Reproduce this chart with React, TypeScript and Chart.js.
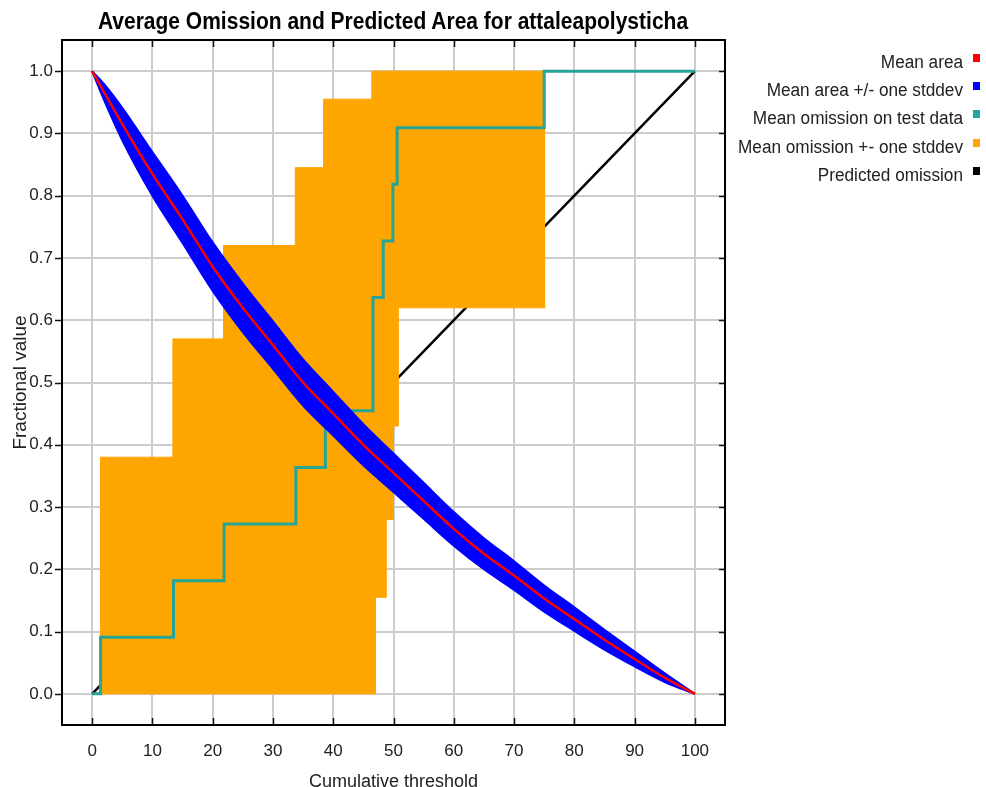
import React, { useEffect, useRef } from 'react';
import { Chart, registerables } from 'chart.js';

Chart.register(...registerables);

const FONT = "'Liberation Sans', Arial, sans-serif";

const TITLE = 'Average Omission and Predicted Area for attaleapolysticha';
const X_TITLE = 'Cumulative threshold';
const Y_TITLE = 'Fractional value';

const X_TICKS = [0, 10, 20, 30, 40, 50, 60, 70, 80, 90, 100];
const Y_TICKS = [0, 0.1, 0.2, 0.3, 0.4, 0.5, 0.6, 0.7, 0.8, 0.9, 1.0];
const Y_TICK_LABELS = ['0.0', '0.1', '0.2', '0.3', '0.4', '0.5', '0.6', '0.7', '0.8', '0.9', '1.0'];

// Mean predicted area (+/- one stddev)
const AREA_X = [0, 2, 5, 10, 15, 20, 25, 30, 35, 40, 45, 50, 55, 60, 65, 70, 75, 80, 85, 90, 95, 100];
const AREA_MEAN = [1.0, 0.966, 0.915, 0.835, 0.762, 0.686, 0.62, 0.56, 0.5, 0.45, 0.4, 0.355, 0.31, 0.265, 0.225, 0.19, 0.153, 0.12, 0.087, 0.056, 0.026, 0.0];
const AREA_STD = [0, 0.013, 0.026, 0.035, 0.038, 0.039, 0.039, 0.038, 0.037, 0.035, 0.033, 0.031, 0.029, 0.027, 0.025, 0.023, 0.021, 0.019, 0.016, 0.012, 0.007, 0];

// Mean omission on test data (step line)
const TEST_X = [0, 1.4, 13.5, 21.9, 33.8, 38.7, 46.6, 48.3, 49.9, 50.6, 75.0, 100];
const TEST_Y = [0, 0.0909, 0.1818, 0.2727, 0.3636, 0.4545, 0.6364, 0.7273, 0.8182, 0.9091, 1.0, 1.0];

// Mean omission +- one stddev (band)
const OMIT_X = [1.3, 13.4, 21.8, 33.7, 38.4, 46.4, 47.0, 48.8, 50.0, 50.8, 75.2];
const OMIT_UPPER = [0.38, 0.57, 0.72, 0.845, 0.955, 1, 1, 1, 1, 1, 1];
const OMIT_LOWER = [0, 0, 0, 0, 0, 0, 0.155, 0.28, 0.43, 0.62, 0.62];

// Predicted omission
const PRED_X = [0, 100];
const PRED_Y = [0, 1];

const RED = '#ff0000';
const BLUE = '#0000ff';
const TEAL = '#26a596';
const ORANGE = '#ffa500';
const BLACK = '#000000';

const LEGEND = [
  { label: 'Mean area', color: RED },
  { label: 'Mean area +/- one stddev', color: BLUE },
  { label: 'Mean omission on test data', color: '#1fa9a0' },
  { label: 'Mean omission +- one stddev', color: ORANGE },
  { label: 'Predicted omission', color: BLACK },
];

const pts = (xs: number[], ys: number[]) => xs.map((x, i) => ({ x, y: ys[i] }));

const frameTicks = {
  id: 'frameTicks',
  afterDraw(chart: any) {
    const { ctx, chartArea } = chart;
    const { left, right, top, bottom } = chartArea;
    const xs = chart.scales.x;
    const ys = chart.scales.y;
    ctx.save();
    ctx.strokeStyle = '#111';
    ctx.lineWidth = 1.5;
    ctx.beginPath();
    X_TICKS.forEach((v) => {
      const px = Math.round(xs.getPixelForValue(v)) + 0.5;
      ctx.moveTo(px, top);
      ctx.lineTo(px, top + 7);
      ctx.moveTo(px, bottom);
      ctx.lineTo(px, bottom - 7);
    });
    Y_TICKS.forEach((v) => {
      const py = Math.round(ys.getPixelForValue(v)) + 0.5;
      ctx.moveTo(left - 7, py);
      ctx.lineTo(left, py);
      ctx.moveTo(right - 6, py);
      ctx.lineTo(right, py);
    });
    ctx.stroke();
    ctx.strokeStyle = '#000';
    ctx.lineWidth = 2;
    ctx.strokeRect(left, top, right - left, bottom - top);
    ctx.restore();
  },
};

export default function App() {
  const ref = useRef<HTMLCanvasElement | null>(null);

  useEffect(() => {
    if (!ref.current) return;
    const areaUpper = AREA_MEAN.map((m, i) => m + AREA_STD[i]);
    const areaLower = AREA_MEAN.map((m, i) => m - AREA_STD[i]);
    const tickFont = { family: FONT, size: 17 };
    const titleFont = { family: FONT, size: 18 };
    const chart = new Chart(ref.current, {
      type: 'scatter',
      data: {
        datasets: [
          {
            label: 'Mean area',
            data: pts(AREA_X, AREA_MEAN),
            showLine: true,
            borderColor: RED,
            borderWidth: 2.5,
            pointRadius: 0,
            cubicInterpolationMode: 'monotone',
            fill: false,
          },
          {
            label: 'Mean area +/- one stddev',
            data: pts(AREA_X, areaUpper),
            showLine: true,
            borderColor: BLUE,
            backgroundColor: BLUE,
            borderWidth: 2,
            pointRadius: 0,
            cubicInterpolationMode: 'monotone',
            fill: 2,
          },
          {
            label: 'Mean area - one stddev',
            data: pts(AREA_X, areaLower),
            showLine: true,
            borderColor: BLUE,
            borderWidth: 2,
            pointRadius: 0,
            cubicInterpolationMode: 'monotone',
            fill: false,
          },
          {
            label: 'Mean omission on test data',
            data: pts(TEST_X, TEST_Y),
            showLine: true,
            stepped: 'before',
            borderColor: TEAL,
            borderWidth: 3,
            pointRadius: 0,
            fill: false,
          },
          {
            label: 'Mean omission + one stddev',
            data: pts(OMIT_X, OMIT_UPPER),
            showLine: true,
            stepped: 'before',
            borderColor: ORANGE,
            backgroundColor: ORANGE,
            borderWidth: 1,
            pointRadius: 0,
            fill: 5,
          },
          {
            label: 'Mean omission - one stddev',
            data: pts(OMIT_X, OMIT_LOWER),
            showLine: true,
            stepped: 'before',
            borderColor: ORANGE,
            borderWidth: 1,
            pointRadius: 0,
            fill: false,
          },
          {
            label: 'Predicted omission',
            data: pts(PRED_X, PRED_Y),
            showLine: true,
            borderColor: BLACK,
            borderWidth: 2.5,
            pointRadius: 0,
            fill: false,
          },
        ],
      },
      options: {
        animation: false,
        responsive: false,
        devicePixelRatio: 1,
        layout: { padding: { top: 40, right: 261, left: 0, bottom: 0 } },
        plugins: {
          legend: { display: false },
          title: { display: false },
          tooltip: { enabled: false },
        },
        scales: {
          x: {
            type: 'linear',
            min: -5,
            max: 105,
            afterBuildTicks: (s: any) => {
              s.ticks = X_TICKS.map((v) => ({ value: v }));
            },
            afterFit: (s: any) => {
              s.height = 62;
            },
            grid: { color: '#cccccc', lineWidth: 2, drawTicks: false },
            border: { display: false },
            ticks: {
              padding: 16,
              color: '#222',
              font: tickFont,
              maxRotation: 0,
              autoSkip: false,
              callback: (v: any) => String(v),
            },
            title: {
              display: true,
              text: X_TITLE,
              color: '#222',
              font: titleFont,
              padding: { top: 0, bottom: -6 },
            },
          },
          y: {
            type: 'linear',
            min: -0.05,
            max: 1.05,
            afterBuildTicks: (s: any) => {
              s.ticks = Y_TICKS.map((v) => ({ value: v }));
            },
            afterFit: (s: any) => {
              s.width = 62;
            },
            grid: { color: '#cccccc', lineWidth: 2, drawTicks: false },
            border: { display: false },
            ticks: {
              padding: 9,
              color: '#222',
              font: tickFont,
              autoSkip: false,
              callback: (_v: any, i: number) => Y_TICK_LABELS[i],
            },
            title: {
              display: true,
              text: Y_TITLE,
              color: '#222',
              font: { family: FONT, size: 19 },
              padding: { top: 9, bottom: 0 },
            },
          },
        },
      },
      plugins: [frameTicks],
    } as any);
    return () => chart.destroy();
  }, []);

  const rowCenters = [61.5, 89.5, 118, 146.5, 175];

  return (
    <div style={{ position: 'absolute', left: 0, top: 0, width: 986, height: 787, background: '#fff', overflow: 'hidden' }}>
      <canvas ref={ref} width={986} height={787} style={{ position: 'absolute', left: 0, top: 0, display: 'block' }} />
      <div
        style={{
          position: 'absolute',
          left: 0,
          width: 786,
          top: 8,
          textAlign: 'center',
          fontFamily: FONT,
          fontWeight: 'bold',
          fontSize: 21,
          lineHeight: '26px',
          color: '#000',
          whiteSpace: 'nowrap',
          transform: 'scaleY(1.1)',
          transformOrigin: 'center center',
        }}
      >
        {TITLE}
      </div>
      {LEGEND.map((item, i) => (
        <React.Fragment key={item.label}>
          <div
            style={{
              position: 'absolute',
              right: 23,
              top: rowCenters[i] - 11,
              height: 22,
              lineHeight: '22px',
              fontFamily: FONT,
              fontSize: 17.2,
              color: '#222',
              whiteSpace: 'nowrap',
              textAlign: 'right',
              transform: 'scaleY(1.05)',
            }}
          >
            {item.label}
          </div>
          <div
            style={{
              position: 'absolute',
              left: 973,
              top: rowCenters[i] - 8,
              width: 7,
              height: 8,
              background: item.color,
            }}
          />
        </React.Fragment>
      ))}
    </div>
  );
}
